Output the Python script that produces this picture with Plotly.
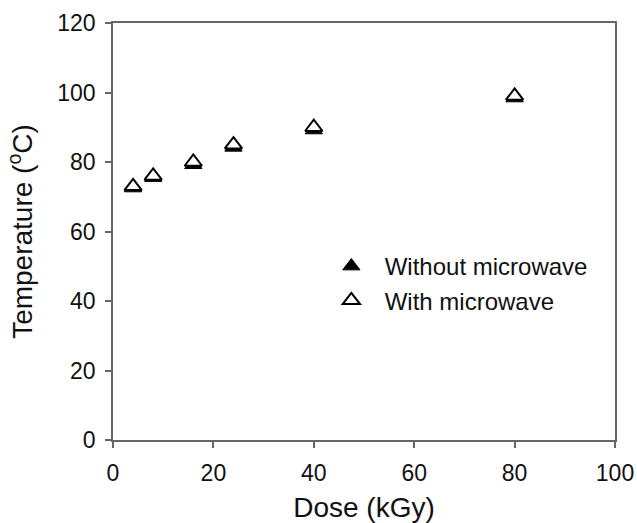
import plotly.graph_objects as go

dose = [4, 8, 16, 24, 40, 80]
temp_without = [72.5, 75.5, 79.2, 84.2, 89.2, 98.4]
temp_with = [73, 76, 80, 85, 90, 99]

FONT = "Liberation Sans, Arial"

fig = go.Figure()
fig.add_trace(go.Scatter(
    x=dose, y=temp_without, mode="markers", name="\u00a0\u00a0Without microwave",
    marker=dict(symbol="triangle-up", size=15, color="black",
                line=dict(color="black", width=1)),
))
fig.add_trace(go.Scatter(
    x=dose, y=temp_with, mode="markers", name="\u00a0\u00a0With microwave",
    marker=dict(symbol="triangle-up", size=15, color="white",
                line=dict(color="black", width=2)),
))

axis_common = dict(
    showgrid=False, zeroline=False, showline=True, linecolor="#666666",
    linewidth=1.5, mirror=True, ticks="outside", ticklen=6, tickwidth=1.5,
    tickcolor="#666666", tickfont=dict(family=FONT, size=23, color="#111111"),
    automargin=False,
)

fig.update_xaxes(range=[0, 100], dtick=20, ticklabelstandoff=6,
                 title=dict(text="Dose (kGy)", font=dict(family=FONT, size=28, color="#111111"),
                            standoff=12),
                 **axis_common)
fig.update_yaxes(range=[0, 120], dtick=20, ticklabelstandoff=5,
                 title=dict(text="Temperature (<sup>o</sup>C)",
                            font=dict(family=FONT, size=28, color="#111111"), standoff=16),
                 **axis_common)

fig.update_layout(
    width=637, height=523,
    margin=dict(l=113, r=22, t=23, b=83),
    plot_bgcolor="white", paper_bgcolor="white",
    legend=dict(x=0.435, y=0.47, xanchor="left", yanchor="top",
                font=dict(family=FONT, size=24, color="#111111"),
                bgcolor="rgba(0,0,0,0)"),
)

fig.write_html("out.html")
